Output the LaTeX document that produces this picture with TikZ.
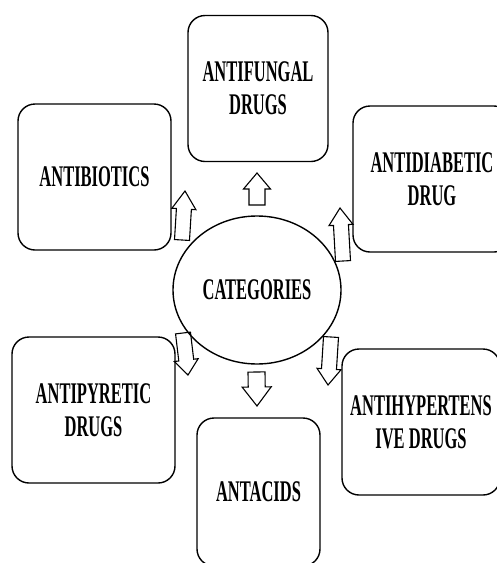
\documentclass[tikz,border=0pt]{standalone}
\usepackage{fontspec}
\setmainfont{Liberation Serif}[FakeStretch=0.55]
\usetikzlibrary{shapes.geometric,calc}
\tikzset{
  box/.style={draw, line width=1.4pt, rounded corners=17pt, align=center,
    font=\bfseries\fontsize{30}{33}\selectfont, inner sep=0pt,
    minimum height=146pt},
  cat/.style={draw, ellipse, line width=1.4pt, inner sep=0pt,
    minimum width=168pt, minimum height=148pt,
    font=\bfseries\fontsize{30}{33}\selectfont},
  barrow/.style={draw, line width=1.1pt, fill=white, line join=miter}
}
% #1 name, #2 shaft half width, #3 head half width, #4 head length
\newcommand\blockarr[4]{%
  \coordinate (#1-h) at ($(#1-t)!#4pt!(#1-b)$);
  \draw[barrow] ($(#1-b)!#2pt!90:(#1-t)$) -- ($(#1-h)!#2pt!90:(#1-t)$)
    -- ($(#1-h)!#3pt!90:(#1-t)$) -- (#1-t) -- ($(#1-h)!#3pt!-90:(#1-t)$)
    -- ($(#1-h)!#2pt!-90:(#1-t)$) -- ($(#1-b)!#2pt!-90:(#1-t)$) -- cycle;
}
\begin{document}
\begin{tikzpicture}[x=1pt,y=-1pt]
  \clip (0,0) rectangle (497,563);
  \fill[white] (0,0) rectangle (497,563);
  % block arrows
  \coordinate (up-b) at (257,205);   \coordinate (up-t) at (257,173);
  \coordinate (dn-b) at (256.5,372); \coordinate (dn-t) at (257,406);
  \coordinate (ul-b) at (182,240);   \coordinate (ul-t) at (185,191);
  \coordinate (ur-b) at (343,261);   \coordinate (ur-t) at (340,208);
  \coordinate (ll-b) at (183,333);   \coordinate (ll-t) at (188,375);
  \coordinate (lr-b) at (331,337);   \coordinate (lr-t) at (328,385);
  \blockarr{up}{8}{13.5}{16}
  \blockarr{dn}{8.5}{14.5}{19}
  \blockarr{ul}{7.5}{12}{18}
  \blockarr{ur}{7.5}{12}{17}
  \blockarr{ll}{7.5}{12}{15}
  \blockarr{lr}{7.5}{12}{16}
  % boxes
  \node[box, minimum width=140pt] (fung) at (258,88.5) {ANTIFUNGAL\\DRUGS};
  \node[box, minimum width=153pt] (bio) at (94.5,177) {ANTIBIOTICS};
  \node[box, minimum width=158pt] (dia) at (432,179) {ANTIDIABETIC\\DRUG};
  \node[box, minimum width=163pt] (pyr) at (93.5,410) {ANTIPYRETIC\\DRUGS};
  \node[box, minimum width=158pt] (hyp) at (421,422) {ANTIHYPERTENS\\IVE DRUGS};
  \node[box, minimum width=123pt, minimum height=148pt] (acid) at (258.5,492) {ANTACIDS};
  \node[cat] (cat) at (257,290) {CATEGORIES};
\end{tikzpicture}
\end{document}
